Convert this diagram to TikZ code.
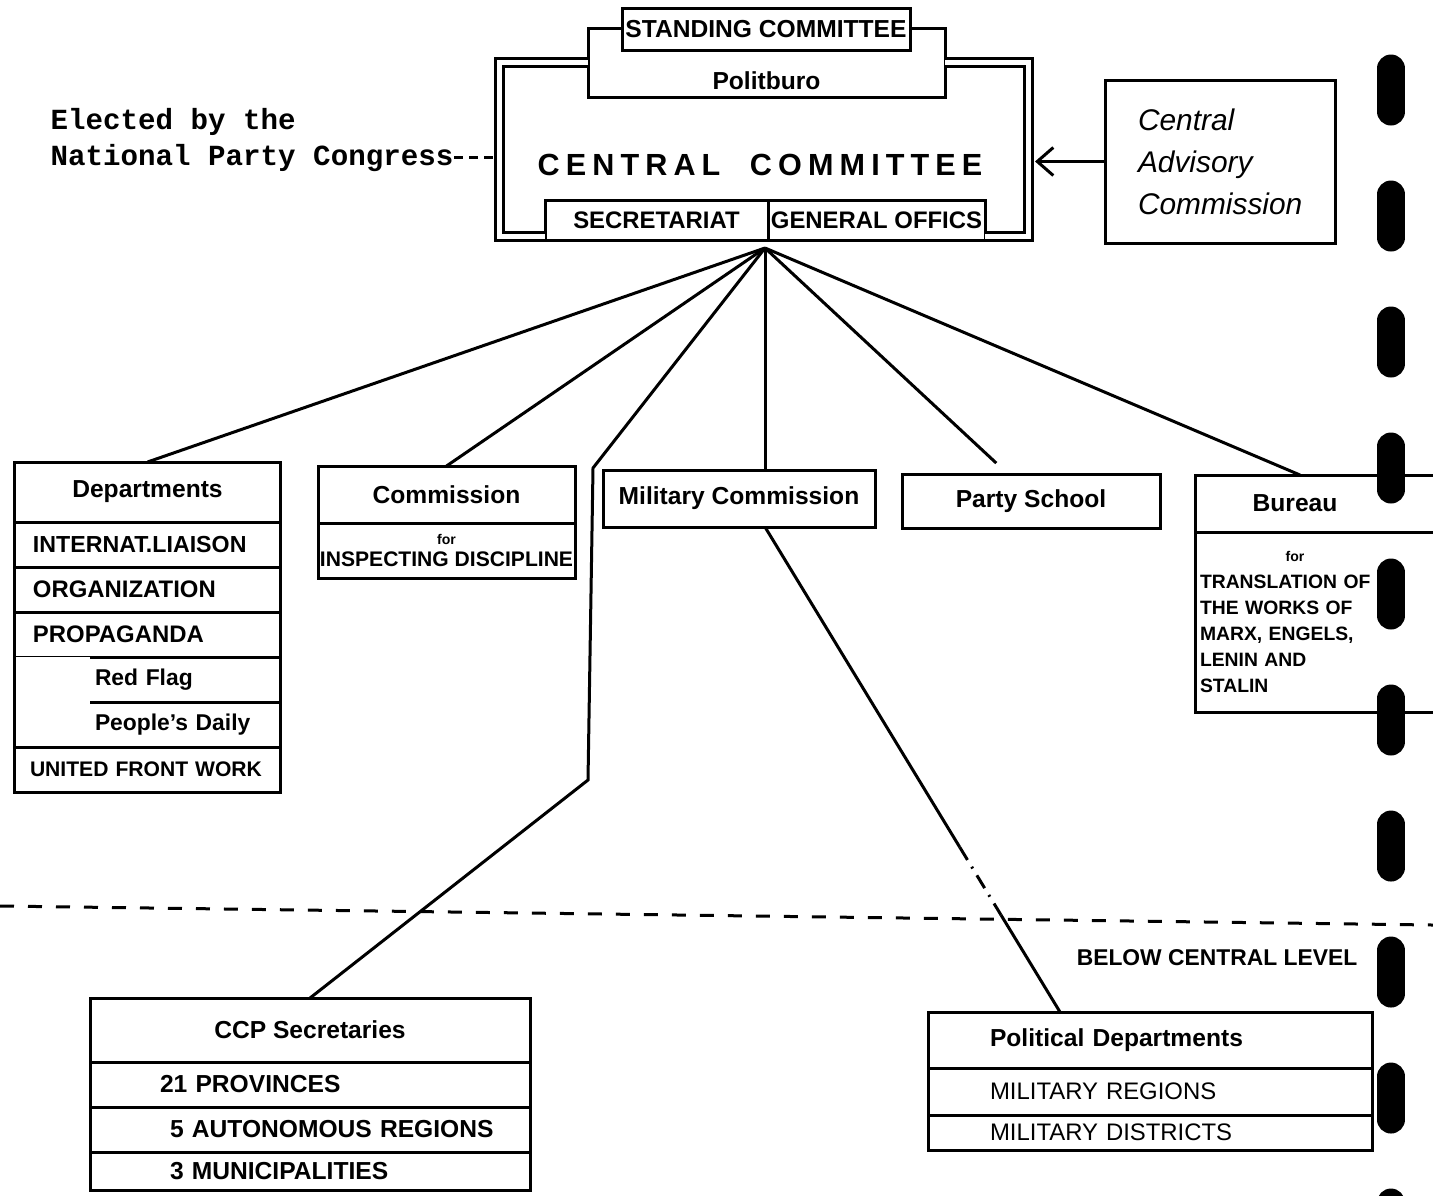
\documentclass[tikz,border=0pt]{standalone}
\usepackage{fontspec}
\setmainfont{Liberation Sans}
\setmonofont{Liberation Mono}
\newfontfamily\spacedfont[LetterSpace=20]{Liberation Sans}
\usetikzlibrary{positioning,calc,arrows.meta}

\tikzset{
  box/.style={draw, line width=0.3mm, fill=white, inner sep=0pt, outer sep=0pt,
    font=\bfseries\fontsize{7}{8.5}\selectfont},
  cell/.style={box, anchor=north, align=left, inner xsep=1.8mm},
  link/.style={line width=0.3mm},
  frame/.style={line width=0.3mm, double, double distance=0.5mm},
}

\begin{document}
\begin{tikzpicture}[x=1mm, y=-1mm]
    \useasboundingbox (0,0) rectangle (143.3,119.5);
    \clip (0,0) rectangle (143.3,119.5);
    % Comite central
    \node[box, minimum width=35.7mm, text height=5.3mm, text depth=0pt, inner ysep=0.8mm] (pb) at (76.65,6.25) {Politburo};
    \node[box, minimum width=28.8mm, minimum height=4.2mm] (stand) at (76.6,2.9) {STANDING COMMITTEE};
    \node[box, minimum width=22.3mm, minimum height=4mm, font=\bfseries\fontsize{6.8}{8}\selectfont] (sec) at (65.65,22.0) {SECRETARIAT};
    \node[box, minimum width=21.7mm, minimum height=4mm, font=\bfseries\fontsize{6.8}{8}\selectfont, right=0pt of sec] (gen) {GENERAL OFFICS};
    \coordinate (ccnw) at (49.9,6.3);
    \coordinate (ccse) at (102.8,23.6);
    \draw[frame] (pb.west) -- (pb.west -| ccnw) |- (sec.west |- ccse);
    \draw[frame] (pb.east) -- (pb.east -| ccse) |- (gen.east |- ccse);
    \node[font=\spacedfont\bfseries\fontsize{8.7}{10}\selectfont] (cc) at (76.0,16.5) {CENTRAL\hspace{1.5mm} COMMITTEE};
    % Congres
    \node[anchor=base west, inner sep=0pt, font=\ttfamily\bfseries\fontsize{8.3}{10}\selectfont] (elect1) at (5.0,12.9) {Elected by the};
    \node[anchor=base west, inner sep=0pt, font=\ttfamily\bfseries\fontsize{8.3}{10}\selectfont] (elect2) at (5.0,16.5) {National Party Congress};
    \draw[link, dash pattern=on 0.9mm off 0.6mm] (elect2.east) -- (elect2.east -| ccnw);
    % Commission consultative
    \node[box, font=\itshape\fontsize{8.5}{12}\selectfont, align=left, text width=16.4mm, inner xsep=3.3mm, minimum height=16.3mm] (cac) at (122.0,16.15) {Central\\Advisory\\Commission};
    \draw[link, -{Straight Barb[length=1.6mm, width=2.8mm]}] (cac.west) -- ([xshift=0.7mm]cac.west -| ccse);
    % Departements
    \node[box, minimum width=26.5mm, minimum height=6mm] (dep) at (14.75,49.2) {Departments};
    \node[cell, below=0pt of dep, text width=22.9mm, minimum height=4.5mm, font=\bfseries\fontsize{6.6}{8}\selectfont] (dep1) {INTERNAT.LIAISON};
    \node[cell, below=0pt of dep1, text width=22.9mm, minimum height=4.5mm, font=\bfseries\fontsize{6.8}{8}\selectfont] (dep2) {ORGANIZATION};
    \node[cell, below=0pt of dep2, text width=22.9mm, minimum height=4.5mm, font=\bfseries\fontsize{6.8}{8}\selectfont] (dep3) {PROPAGANDA};
    \node[cell, draw=none, below=0pt of dep3, text width=22.9mm, minimum height=4.5mm, font=\bfseries\fontsize{6.5}{8}\selectfont] (dep4) {\hspace*{6.2mm}Red Flag};
    \node[cell, draw=none, below=0pt of dep4, text width=22.9mm, minimum height=4.5mm, font=\bfseries\fontsize{6.5}{8}\selectfont] (dep5) {\hspace*{6.2mm}People's Daily};
    \node[cell, below=0pt of dep5, text width=23.5mm, inner xsep=1.5mm, minimum height=4.5mm, font=\bfseries\fontsize{6}{8}\selectfont] (dep6) {UNITED FRONT WORK};
    \draw[link] ([xshift=7.5mm]dep4.north west) -- (dep4.north east);
    \draw[link] ([xshift=7.5mm]dep5.north west) -- (dep5.north east);
    \draw[link] (dep.north west) rectangle (dep6.south east);
    % Commissions, ecole, bureau
    \node[box, minimum width=25.7mm, minimum height=5.7mm] (com) at (44.65,49.45) {Commission};
    \node[cell, below=0pt of com, align=center, inner xsep=0pt, minimum width=25.7mm, minimum height=5.5mm, font=\bfseries\fontsize{6}{6.5}\selectfont] (com1) {{\fontsize{4}{4}\selectfont for}\\INSPECTING DISCIPLINE};
    \node[box, minimum width=27.2mm, minimum height=5.7mm] (mil) at (73.9,49.85) {Military Commission};
    \node[box, minimum width=25.8mm, minimum height=5.4mm] (school) at (103.1,50.1) {Party School};
    \node[box, align=left, text width=25.5mm, inner xsep=0.5mm, minimum height=5.7mm] (bur) at (132.75,50.35) {\makebox[19mm]{Bureau}};
    \node[cell, below=0pt of bur, text width=25.5mm, inner xsep=0.5mm, minimum height=18mm, font=\bfseries\fontsize{5.5}{7.4}\selectfont] (bur1) {\makebox[19mm]{\fontsize{4}{4}\selectfont for}\\TRANSLATION OF\\THE WORKS OF\\MARX, ENGELS,\\LENIN AND\\STALIN};
    % Niveau inferieur
    \node[box, minimum width=44mm, minimum height=6.4mm] (ccp) at (31.0,103.0) {CCP Secretaries};
    \node[cell, below=0pt of ccp, text width=40.4mm, minimum height=4.5mm] (ccp1) {\hspace*{5.2mm}21 PROVINCES};
    \node[cell, below=0pt of ccp1, text width=40.4mm, minimum height=4.5mm] (ccp2) {\hspace*{6.2mm}5 AUTONOMOUS REGIONS};
    \node[cell, below=0pt of ccp2, text width=40.4mm, minimum height=3.8mm] (ccp3) {\hspace*{6.2mm}3 MUNICIPALITIES};
    \node[box, align=left, text width=32mm, inner xsep=6.2mm, minimum height=5.6mm] (poldep) at (115.0,104.0) {Political Departments};
    \node[cell, below=0pt of poldep, text width=32mm, inner xsep=6.2mm, minimum height=4.7mm, font=\fontsize{6.8}{8}\selectfont] (poldep1) {MILITARY REGIONS};
    \node[cell, below=0pt of poldep1, text width=32mm, inner xsep=6.2mm, minimum height=3.5mm, font=\fontsize{6.8}{8}\selectfont] (poldep2) {MILITARY DISTRICTS};
    % Liens
    \coordinate (hub) at (76.5,24.8);
    \coordinate (bendA) at (59.3,46.8);
    \coordinate (bendB) at (58.8,78.0);
    \draw[link] (hub) -- (dep.north);
    \draw[link] (hub) -- (com.north);
    \draw[link] (hub) -- (bendA) -- (bendB) -- (ccp.north);
    \draw[link] (hub) -- (hub |- mil.north);
    \draw[link, shorten >=1.6mm] (hub) -- ([xshift=-2.3mm]school.north);
    \draw[link] (hub) -- ([xshift=-2.75mm]bur.north);
    \coordinate (milout) at ([xshift=2.6mm]mil.south);
    \coordinate (polin) at ([xshift=-9mm]poldep.north);
    \draw[link] (milout) -- ($(milout)!0.66!(polin)$);
    \draw[link, dash pattern=on 1.5mm off 0.8mm on 0.2mm off 0.8mm] ($(milout)!0.66!(polin)$) -- ($(milout)!0.8!(polin)$);
    \draw[link] ($(milout)!0.8!(polin)$) -- (polin);
    % Limite centrale
    \coordinate (lvlw) at (0,90.6);
    \coordinate (lvle) at (143.3,92.5);
    \draw[link, dash pattern=on 1.4mm off 1.4mm] (lvlw) -- (lvle);
    \node[font=\bfseries\fontsize{6.5}{8}\selectfont] (lvl) at (121.7,95.8) {BELOW CENTRAL LEVEL};
    % Marge
    \draw[line width=2.8mm, line cap=round, dash pattern=on 4.3mm off 8.3mm] (139.1,6.85) -- (139.1,125);
\end{tikzpicture}
\end{document}
